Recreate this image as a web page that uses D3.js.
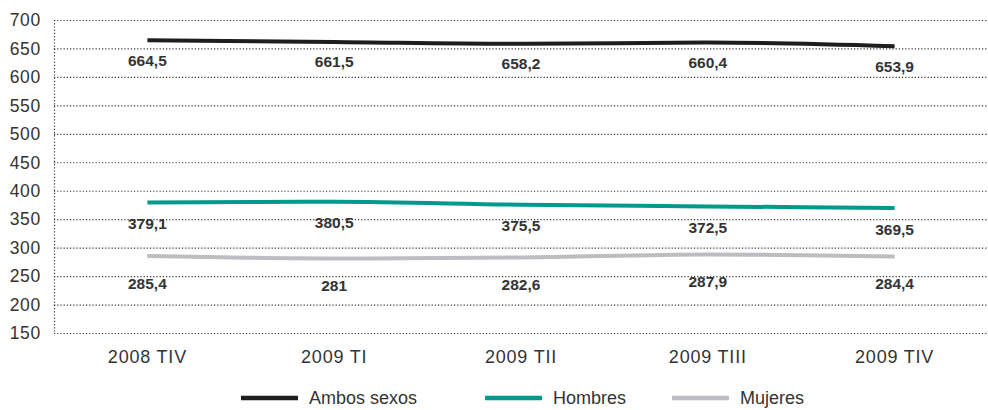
<!DOCTYPE html>
<html><head><meta charset="utf-8">
<script src="https://cdn.jsdelivr.net/npm/d3@7"></script>
<style>body{margin:0;background:#fff}svg{display:block}</style>
</head><body>
<svg id="c" width="988" height="410"></svg>
<script>
const categories = ["2008 TIV","2009 TI","2009 TII","2009 TIII","2009 TIV"];
const ambos   = [664.5, 661.5, 658.2, 660.4, 653.9];
const hombres = [379.1, 380.5, 375.5, 372.5, 369.5];
const mujeres = [285.4, 281, 282.6, 287.9, 284.4];
const yTicks  = [150,200,250,300,350,400,450,500,550,600,650,700];
const seriesNames = ["Ambos sexos","Hombres","Mujeres"];

const series = [
  {name: seriesNames[0], values: ambos,   color: "#1e1e1e", w: 4, off: 20},
  {name: seriesNames[1], values: hombres, color: "#00998a", w: 4, off: 21},
  {name: seriesNames[2], values: mujeres, color: "#bdbdc1", w: 4, off: 27}
];

const svg = d3.select("#c");
const font = "'Liberation Sans', Arial, Helvetica, sans-serif";
const x = d3.scaleBand().domain(categories).range([54, 988]);
const y = d3.scaleLinear().domain([150, 700]).range([333, 20]);

// gridlines
svg.append("g").selectAll("line").data(yTicks).join("line")
  .attr("x1", 54).attr("x2", 988)
  .attr("y1", d => y(d) + 0.5).attr("y2", d => y(d) + 0.5)
  .attr("stroke", "#333").attr("stroke-width", 1.2).attr("stroke-dasharray", "1.2,2");
// vertical axis
svg.append("line").attr("x1", 54.5).attr("x2", 54.5).attr("y1", y(700)).attr("y2", y(150))
  .attr("stroke", "#333").attr("stroke-width", 1.2).attr("stroke-dasharray", "1.2,2");

// y tick labels
svg.append("g").selectAll("text").data(yTicks).join("text")
  .attr("x", 41).attr("y", d => y(d)).attr("dy", "0.36em")
  .attr("text-anchor", "end").attr("font-family", font).attr("font-size", 17.5)
  .attr("letter-spacing", 0.7).attr("fill", "#333").text(d => d);

// x labels
svg.append("g").selectAll("text").data(categories).join("text")
  .attr("x", d => x(d) + x.bandwidth()/2).attr("y", 363)
  .attr("text-anchor", "middle").attr("font-family", font).attr("font-size", 18)
  .attr("letter-spacing", 0.8).attr("fill", "#333").text(d => d);

// lines
const line = d3.line()
  .x((d, i) => x(categories[i]) + x.bandwidth()/2)
  .y(d => y(d))
  .curve(d3.curveMonotoneX);

series.forEach(s => {
  svg.append("path").attr("d", line(s.values))
    .attr("fill", "none").attr("stroke", s.color).attr("stroke-width", s.w);
  svg.append("g").selectAll("text").data(s.values).join("text")
    .attr("x", (d, i) => x(categories[i]) + x.bandwidth()/2)
    .attr("y", d => y(d) + s.off).attr("dy", "0.36em")
    .attr("text-anchor", "middle").attr("font-family", font).attr("font-size", 15.5)
    .attr("font-weight", "bold").attr("fill", "#333")
    .text(d => String(d).replace(".", ","));
});

// legend
const legX = [241, 485, 672];
const lg = svg.append("g");
series.forEach((s, i) => {
  lg.append("line").attr("x1", legX[i]).attr("x2", legX[i] + 57)
    .attr("y1", 398).attr("y2", 398).attr("stroke", s.color).attr("stroke-width", 4.5);
  lg.append("text").attr("x", legX[i] + 68).attr("y", 398).attr("dy", "0.36em")
    .attr("font-family", font).attr("font-size", 18).attr("fill", "#333").text(s.name);
});
</script>
</body></html>
